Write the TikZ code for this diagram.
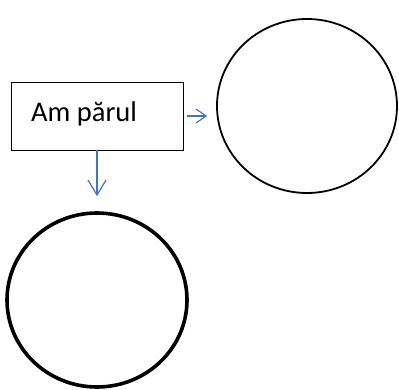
\documentclass[tikz,border=0pt]{standalone}
\usepackage{fontspec}
\setmainfont{Carlito}
\usepackage{tikz}
\usetikzlibrary{shapes.geometric, arrows.meta}
\definecolor{linkblue}{HTML}{4472C4}
\tikzset{
    link/.style={draw=linkblue, line width=1.2pt},
    ring/.style={draw=black, ellipse, inner sep=0pt}
}

\begin{document}
\begin{tikzpicture}[x=1pt, y=-1pt]
    \useasboundingbox (0,0) rectangle (399,390);
    %casetta
    \node[draw, line width=0.9pt, minimum width=172pt, minimum height=68pt, inner sep=0pt] (box) at (97,116) {};
    \node[anchor=base west, font=\fontsize{28.5}{32}\selectfont, inner sep=0pt] (label) at (31,122) {Am părul};
    %cerchi
    \node[ring, line width=1.8pt, minimum width=180pt, minimum height=174pt] (rc) at (307,106) {};
    \node[ring, line width=3.6pt, minimum width=180pt, minimum height=174pt] (bc) at (97,300) {};
    %frecce
    \draw[link, -{Straight Barb[length=10pt, width=14pt]}, shorten <=4pt, shorten >=9pt] (box.east) -- (box.east -| rc.west);
    \draw[link, -{Straight Barb[length=15pt, width=18pt]}, shorten >=15pt] (box.south) -- (box.south |- bc.north);
\end{tikzpicture}
\end{document}
